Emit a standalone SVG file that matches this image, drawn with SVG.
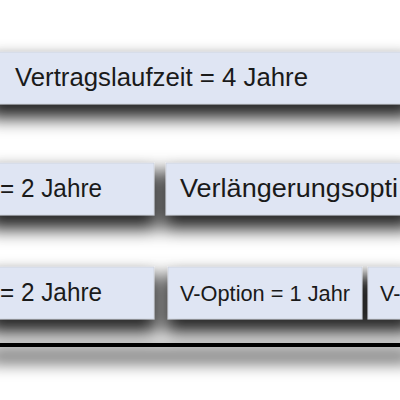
<svg xmlns="http://www.w3.org/2000/svg" width="400" height="400" viewBox="0 0 400 400">
<defs>
<filter id="sh" filterUnits="userSpaceOnUse" x="-60" y="0" width="520" height="400">
<feMorphology in="SourceAlpha" operator="dilate" radius="3" result="d"/>
<feGaussianBlur in="d" stdDeviation="8.5" result="b"/>
<feOffset in="b" dx="0" dy="11" result="o"/>
<feFlood flood-color="#000" flood-opacity="0.85"/>
<feComposite in2="o" operator="in" result="s"/>
<feMerge><feMergeNode in="s"/><feMergeNode in="SourceGraphic"/></feMerge>
</filter>
<style>
.box{fill:#dfe5f3;stroke:#c6cad4;stroke-width:0.6}
.t{font-family:"Liberation Sans",Arial,sans-serif;fill:#1a1a1a}
</style>
</defs>
<rect width="400" height="400" fill="#ffffff"/>
<g id="shadowed" filter="url(#sh)">
<g id="line">
<rect x="-10" y="343" width="420" height="4" fill="#000"/>
</g>
<g id="node-vertragslaufzeit">
<rect class="box" x="-10" y="52" width="420" height="52"/>
</g>
<g id="node-mindest-1">
<rect class="box" x="-10" y="163" width="164" height="52"/>
</g>
<g id="node-verlaengerung">
<rect class="box" x="166" y="163" width="244" height="52"/>
</g>
<g id="node-mindest-2">
<rect class="box" x="-10" y="267" width="164" height="52"/>
</g>
<g id="node-voption-1">
<rect class="box" x="168" y="267" width="194" height="52"/>
</g>
<g id="node-voption-2">
<rect class="box" x="368" y="267" width="42" height="52"/>
</g>
</g>
<g id="labels">
<text class="t" x="15" y="85.5" font-size="26.4" textLength="293" lengthAdjust="spacingAndGlyphs">Vertragslaufzeit = 4 Jahre</text>
<text class="t" x="0" y="197" font-size="25.9" textLength="102" lengthAdjust="spacingAndGlyphs">= 2 Jahre</text>
<text class="t" x="180" y="197" font-size="25.9" textLength="218" lengthAdjust="spacingAndGlyphs">Verlängerungsopti</text>
<text class="t" x="0" y="301" font-size="25.9" textLength="102" lengthAdjust="spacingAndGlyphs">= 2 Jahre</text>
<text class="t" x="180" y="301" font-size="21.6" textLength="170" lengthAdjust="spacingAndGlyphs">V-Option = 1 Jahr</text>
<text class="t" x="380" y="301" font-size="21.6">V-</text>
</g>
</svg>
